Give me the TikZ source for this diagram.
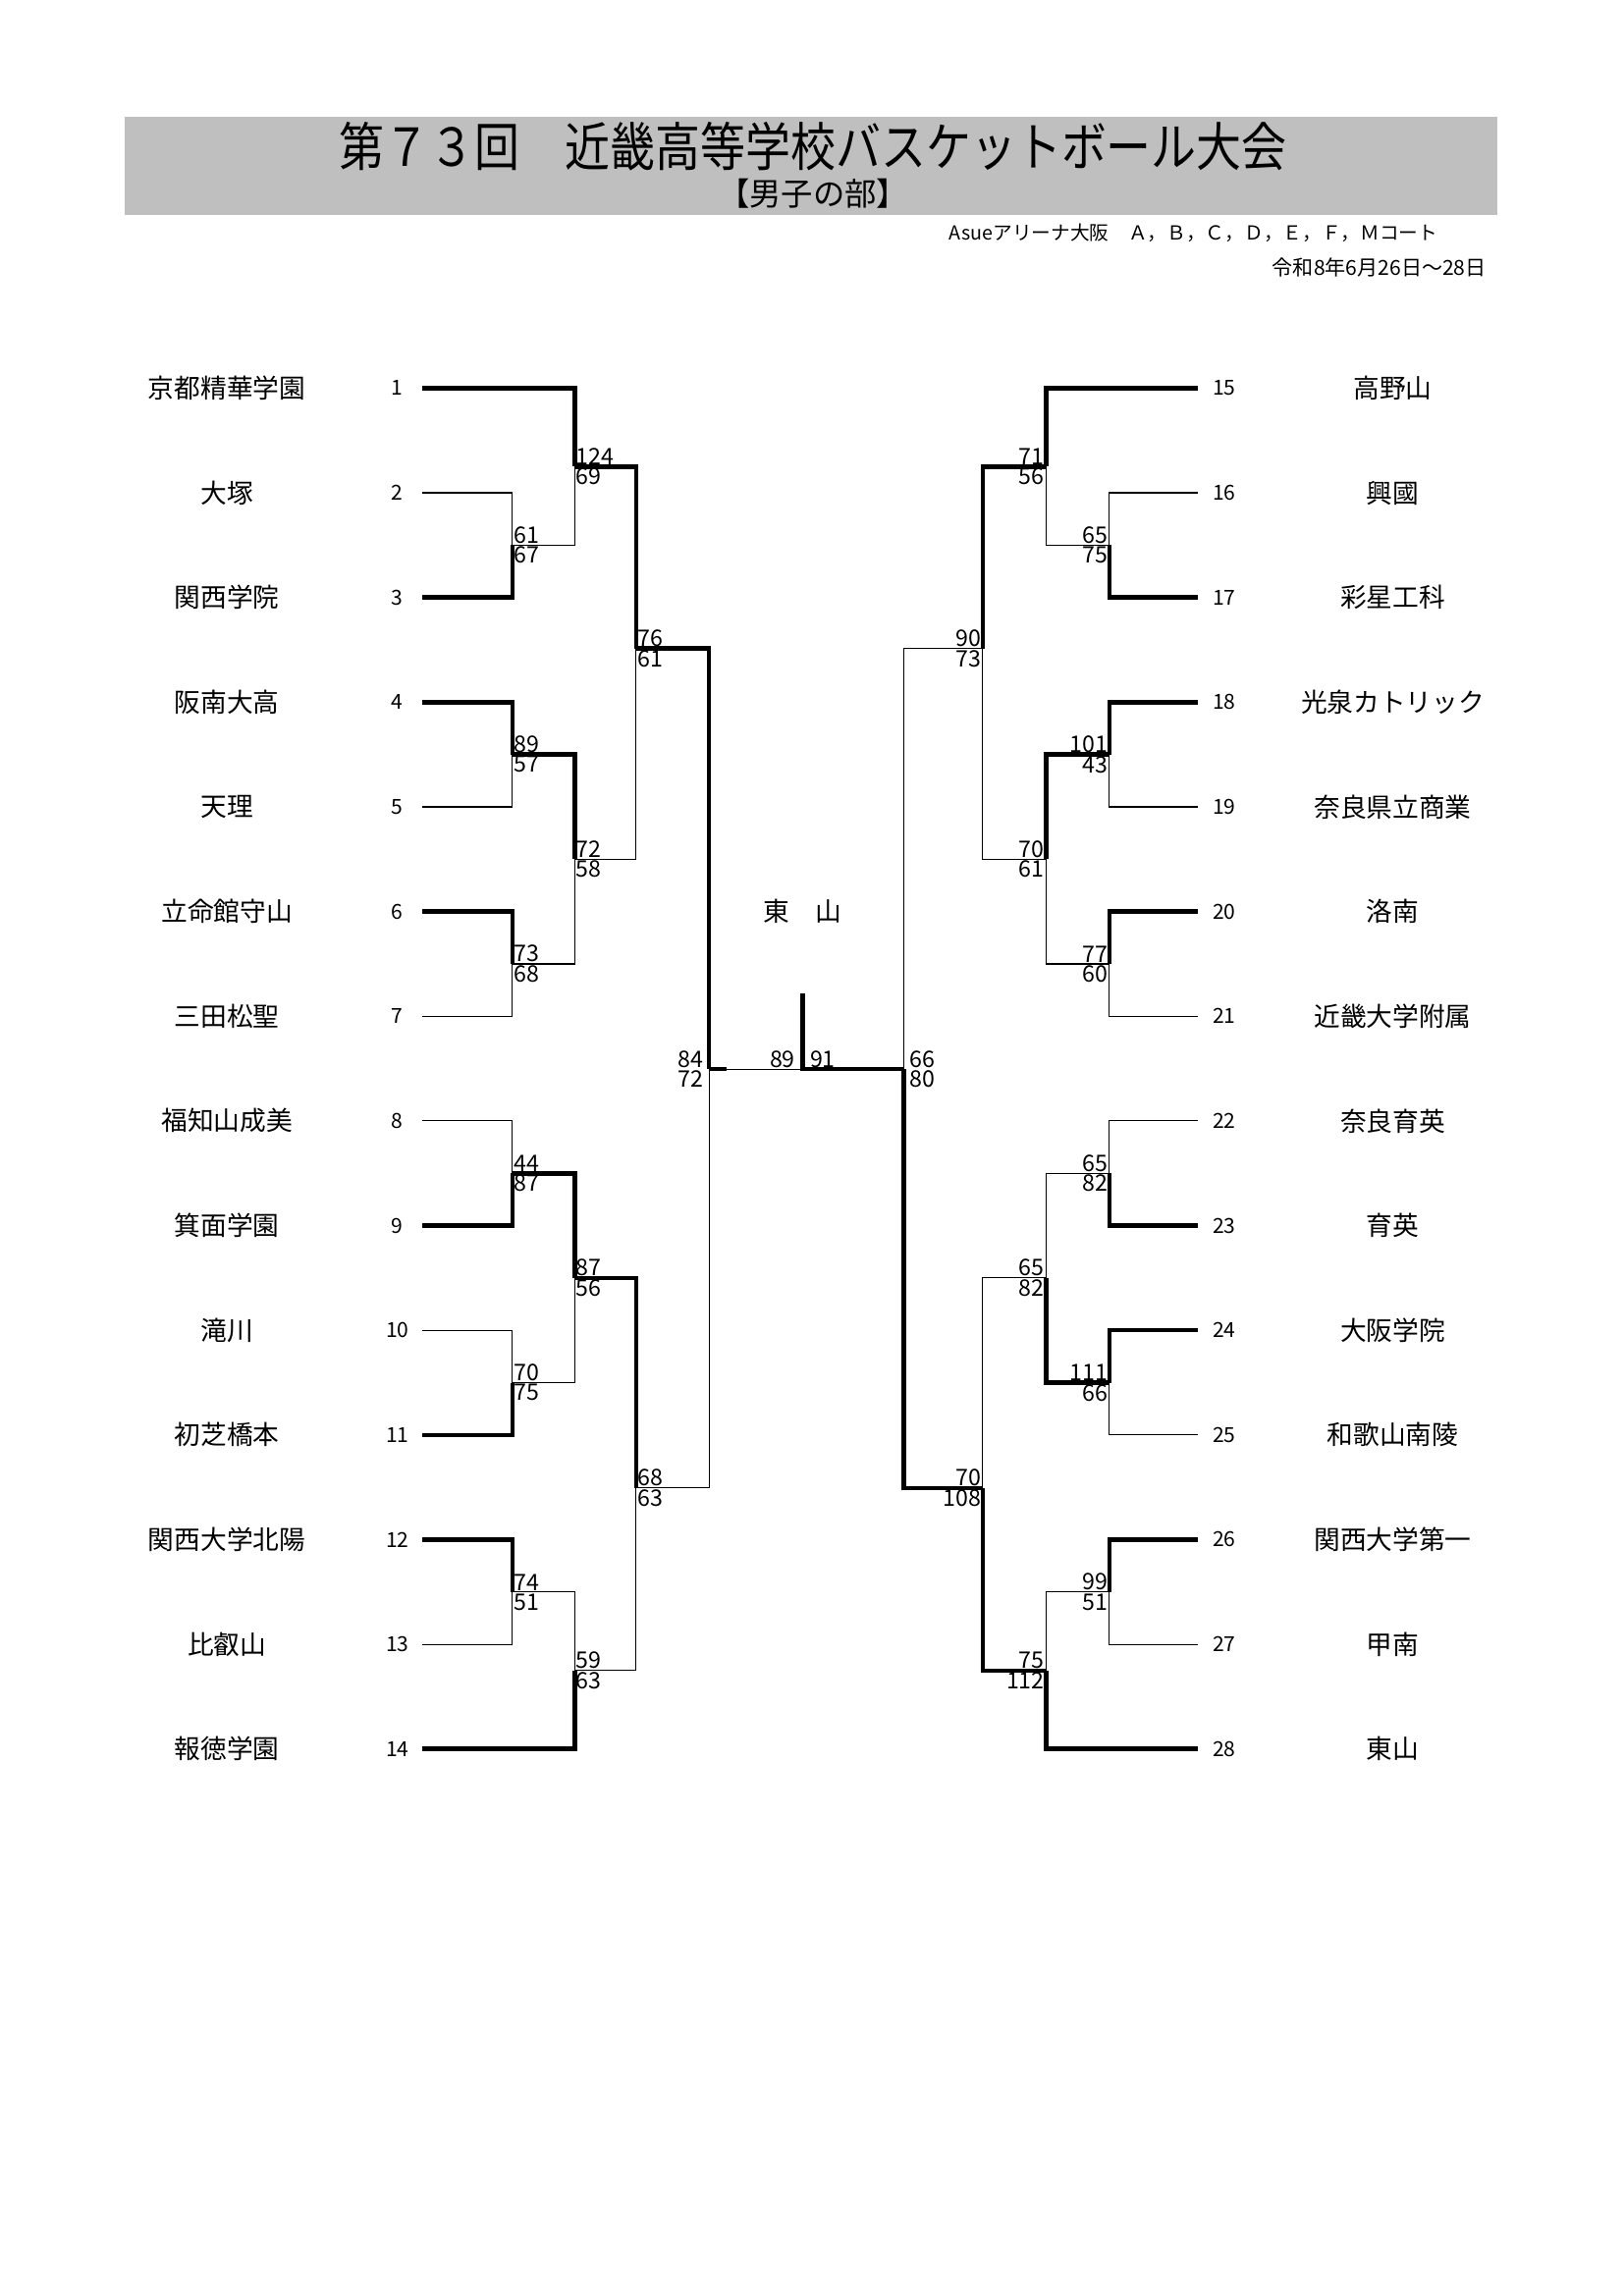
\documentclass[tikz,border=0pt]{standalone}
\usepackage{fontspec}
\setmainfont{Noto Sans CJK JP}
\usepackage{tikz}
\usetikzlibrary{positioning, calc}

\begin{document}
\begin{tikzpicture}[x=0.0248cm,y=-0.0248cm,
				fat/.style={line width=3.2pt},
				slim/.style={line width=0.8pt},
				team/.style={font=\fontsize{19}{21}\selectfont},
				seed/.style={font=\fontsize{15}{17}\selectfont},
				pts/.style={font=\fontsize{16.5}{17}\selectfont,inner sep=1pt}]
				
				\useasboundingbox (0,0) rectangle (1667.3,2357.9);
				\fill[black!25] (128,120) rectangle (1537,221);
				\node (title) at (835,150) {\fontsize{38}{40}\selectfont\scalebox{0.86}[1]{第７３回　近畿高等学校バスケットボール大会}};
				\node (part) at (835,199) {\fontsize{23}{25}\selectfont 【男子の部】};
				\node[anchor=east,font=\fontsize{14}{16}\selectfont] (court) at (1481,239) {Asueアリーナ大阪　Ａ，Ｂ，Ｃ，Ｄ，Ｅ，Ｆ，Ｍコート};
				\node[anchor=east,font=\fontsize{15}{17}\selectfont] (date) at (1531,275) {令和8年6月26日～28日};
				
				% teams
				\foreach \n/\name [count=\i] in {1/京都精華学園,2/大塚,3/関西学院,4/阪南大高,5/天理,6/立命館守山,7/三田松聖,
					8/福知山成美,9/箕面学園,10/滝川,11/初芝橋本,12/関西大学北陽,13/比叡山,14/報徳学園}
				{
					\node[team] (t\n) at (233,{398.6+(\i-1)*107.5}) {\name};
					\node[seed] (s\n) at (408,{398.6+(\i-1)*107.5}) {\n};
				}
				\foreach \n/\name [count=\i] in {15/高野山,16/興國,17/彩星工科,18/光泉カトリック,19/奈良県立商業,20/洛南,21/近畿大学附属,
					22/奈良育英,23/育英,24/大阪学院,25/和歌山南陵,26/関西大学第一,27/甲南,28/東山}
				{
					\node[team] (t\n) at (1430,{398.6+(\i-1)*107.5}) {\name};
					\node[seed] (s\n) at (1257,{398.6+(\i-1)*107.5}) {\n};
				}
				
				% left half
				\foreach \x/\xt/\yt/\xb/\yb/\yo/\st/\sb/\ft/\fb in {
					526/433/506.1/433/613.6/559.9/61/67/slim/fat,
					590/433/398.6/526/559.9/479.2/124/69/fat/slim,
					526/433/721.1/433/828.6/774.9/89/57/fat/slim,
					526/433/936.1/433/1043.6/989.9/73/68/fat/slim,
					590/526/774.9/526/989.9/882.4/72/58/fat/slim,
					653/590/479.2/590/882.4/666/76/61/fat/slim,
					526/433/1151.1/433/1258.6/1204.9/44/87/slim/fat,
					526/433/1366.1/433/1473.6/1419.9/70/75/slim/fat,
					590/526/1204.9/526/1419.9/1312.4/87/56/fat/slim,
					526/433/1581.1/433/1688.6/1634.9/74/51/fat/slim,
					590/526/1634.9/433/1796.1/1715.5/59/63/slim/fat,
					653/590/1312.4/590/1715.5/1528/68/63/fat/slim}
				{
					\draw[\ft] (\xt,\yt) -- (\x,\yt) -- (\x,\yo);
					\draw[\fb] (\xb,\yb) -- (\x,\yb) -- (\x,\yo);
					\node[pts,anchor=south west] at (\x,\yo) {\st};
					\node[pts,anchor=north west] at (\x,\yo) {\sb};
				}
				
				% right half
				\foreach \x/\xt/\yt/\xb/\yb/\yo/\st/\sb/\ft/\fb in {
					1139/1230/506.1/1230/613.6/559.9/65/75/slim/fat,
					1074/1230/398.6/1139/559.9/479.2/71/56/fat/slim,
					1139/1230/721.1/1230/828.6/774.9/101/43/fat/slim,
					1139/1230/936.1/1230/1043.6/989.9/77/60/fat/slim,
					1074/1139/774.9/1139/989.9/882.4/70/61/fat/slim,
					1009/1074/479.2/1074/882.4/666/90/73/fat/slim,
					1139/1230/1151.1/1230/1258.6/1204.9/65/82/slim/fat,
					1139/1230/1366.1/1230/1473.6/1419.9/111/66/fat/slim,
					1074/1139/1204.9/1139/1419.9/1312.4/65/82/slim/fat,
					1139/1230/1581.1/1230/1688.6/1634.9/99/51/fat/slim,
					1074/1139/1634.9/1230/1796.1/1715.5/75/112/slim/fat,
					1009/1074/1312.4/1074/1715.5/1528/70/108/slim/fat}
				{
					\draw[\ft] (\xt,\yt) -- (\x,\yt) -- (\x,\yo);
					\draw[\fb] (\xb,\yb) -- (\x,\yb) -- (\x,\yo);
					\node[pts,anchor=south east] at (\x,\yo) {\st};
					\node[pts,anchor=north east] at (\x,\yo) {\sb};
				}
				
				% semifinals and final
				\coordinate (semiL) at (728,1098);
				\coordinate (semiR) at (928,1098);
				\coordinate (champ) at (824,1098);
				\draw[fat] (653,666) -- (728,666) -- (semiL);
				\draw[slim] (653,1528) -- (728,1528) -- (semiL);
				\draw[slim] (1009,666) -- (928,666) -- (semiR);
				\draw[fat] (1009,1528) -- (928,1528) -- (semiR);
				\draw[fat] (semiL) -- ++(18,0);
				\draw[slim] ($(semiL)+(18,0)$) -- (champ);
				\draw[fat] (semiR) -- (champ) -- ++(0,-78);
				\node[pts,anchor=south east] at ($(semiL)+(-4,0)$) {84};
				\node[pts,anchor=north east] at ($(semiL)+(-4,0)$) {72};
				\node[pts,anchor=south west] at ($(semiR)+(4,0)$) {66};
				\node[pts,anchor=north west] at ($(semiR)+(4,0)$) {80};
				\node[pts,anchor=south east] at ($(champ)+(-6,0)$) {89};
				\node[pts,anchor=south west] at ($(champ)+(6,0)$) {91};
				\node[team] (winner) at (824,936) {東　山};
			\end{tikzpicture}
\end{document}
